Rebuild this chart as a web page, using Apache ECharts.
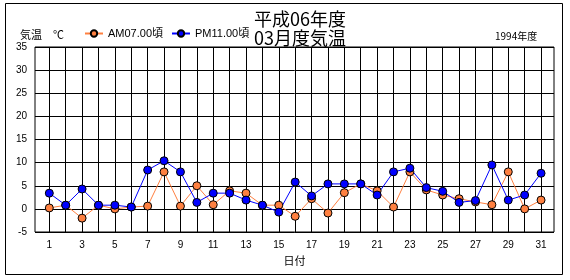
<!DOCTYPE html>
<html><head><meta charset="utf-8">
<script src="https://cdn.jsdelivr.net/npm/echarts@6/dist/echarts.min.js"></script>
<style>html,body{margin:0;padding:0;background:#fff}#c{width:570px;height:280px}</style>
</head><body><div id="c"></div>
<script>
var days = [];
for (var d = 1; d <= 31; d++) days.push(d);
var oddDays = [1,3,5,7,9,11,13,15,17,19,21,23,25,27,29,31];
var amTemps = [0.2,0.8,-2.0,0.8,0.0,0.4,0.6,8.0,0.6,5.0,0.9,3.9,3.4,0.8,0.8,-1.6,2.2,-0.9,3.5,5.4,3.9,0.4,8.0,4.1,3.0,2.2,1.5,0.9,8.0,0.0,1.9];
var pmTemps = [3.4,0.8,4.3,0.8,0.8,0.4,8.4,10.4,8.0,1.4,3.4,3.4,1.9,0.8,-0.7,5.8,2.8,5.4,5.4,5.4,3.0,8.0,8.8,4.6,3.8,1.4,1.8,9.5,1.9,3.0,7.7];
var yTicks = [-5,0,5,10,15,20,25,30,35];
var seriesNames = ['AM07.00頃','PM11.00頃'];

var fontLat = '"Liberation Sans","Noto Sans CJK JP",sans-serif';
var fontJp = '"Noto Sans CJK JP",sans-serif';
function pairs(vals){ return vals.map(function(v,i){ return [days[i], v]; }); }

var chart = echarts.init(document.getElementById('c'), null, {renderer:'canvas'});
chart.setOption({
  animation:false,
  backgroundColor:'#fff',
  graphic:[{type:'rect', shape:{x:5.5,y:3.5,width:557,height:271}, style:{fill:'none',stroke:'#000',lineWidth:1}, silent:true}],
  title:[
    {text:'平成06年度\n03月度気温', left:295, top:5, textAlign:'center',
     textStyle:{fontFamily:fontJp, fontSize:18, fontWeight:'normal', color:'#000', lineHeight:19}},
    {text:'1994年度', left:490, top:26, textStyle:{fontFamily:fontJp, fontSize:10, fontWeight:'normal', color:'#000'}},
    {text:'気温　℃', left:15, top:24, textStyle:{fontFamily:fontJp, fontSize:11, fontWeight:'normal', color:'#000'}}
  ],
  legend:{
    data:seriesNames, left:79, top:23, itemWidth:18, itemHeight:8, itemGap:8,
    textStyle:{fontFamily:fontLat, fontSize:11, color:'#000'}
  },
  grid:{left:35, right:16, top:47, bottom:48, show:true, borderColor:'#000', borderWidth:1},
  xAxis:{
    type:'value', min:0.127, max:31.79,
    name:'日付', nameLocation:'middle', nameGap:21,
    nameTextStyle:{fontFamily:fontJp, fontSize:11, color:'#000'},
    axisLine:{show:false},
    axisTick:{show:false, customValues:days},
    axisLabel:{customValues:oddDays, margin:8, fontFamily:fontLat, fontSize:10, color:'#000'},
    splitLine:{show:true, lineStyle:{color:'#000', width:1}}
  },
  yAxis:{
    type:'value', min:-5, max:35, interval:5,
    axisLine:{show:false}, axisTick:{show:false},
    axisLabel:{margin:8, fontFamily:fontLat, fontSize:10, color:'#000'},
    splitLine:{show:true, lineStyle:{color:'#000', width:1}}
  },
  series:[
    {name:seriesNames[0], type:'line', data:pairs(amTemps), symbol:'circle', symbolSize:8,
     lineStyle:{color:'#FF8040', width:1}, itemStyle:{color:'#FF8040', borderColor:'#000', borderWidth:1}},
    {name:seriesNames[1], type:'line', data:pairs(pmTemps), symbol:'circle', symbolSize:8,
     lineStyle:{color:'#0000FF', width:1}, itemStyle:{color:'#0000FF', borderColor:'#000', borderWidth:1}}
  ]
});
</script></body></html>
